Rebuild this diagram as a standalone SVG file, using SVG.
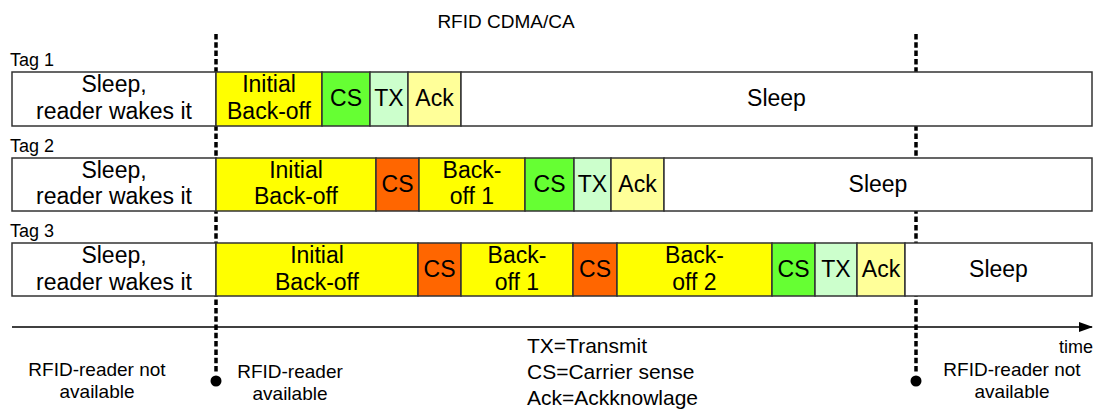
<svg xmlns="http://www.w3.org/2000/svg" width="1097" height="411" viewBox="0 0 1097 411">
<style>
text{font-family:"Liberation Sans",Arial,sans-serif;fill:#000}
.t{font-size:23px;text-anchor:middle}
.lbl{font-size:18px}
.bl{font-size:19px;text-anchor:middle}
.leg{font-size:21px}
.seg{stroke:#333;stroke-width:1.5}
.w{fill:#fff}
.y{fill:#ffff00}
.o{fill:#ff6600}
.g{fill:#66ff33}
.tx{fill:#ccffcc}
.ak{fill:#ffff99}
.dot{stroke:#000;stroke-width:3.5;stroke-dasharray:5.5 2.8;fill:none}
</style>
<defs>
<marker id="arr" markerWidth="14" markerHeight="10" refX="13" refY="5" orient="auto" markerUnits="userSpaceOnUse">
<path d="M0,0 L14,5 L0,10 z" fill="#000"/>
</marker>
</defs>
<rect width="1097" height="411" fill="#fff"/>
<text x="506" y="28" style="font-size:19px;text-anchor:middle">RFID CDMA/CA</text>

<g id="connectors">
<line class="dot" x1="216" y1="34" x2="216" y2="374"/>
<line class="dot" x1="916" y1="34" x2="916" y2="374"/>
<circle cx="216" cy="381" r="5.5" fill="#000"/>
<circle cx="916" cy="381" r="5.5" fill="#000"/>
<line x1="12" y1="327" x2="1092" y2="327" stroke="#000" stroke-width="1.5" marker-end="url(#arr)"/>
</g>

<g id="tag1">
<text class="lbl" x="10" y="66">Tag 1</text>
<rect class="seg w" x="12" y="72" width="204" height="54"/>
<text class="t" x="114" y="92">Sleep,</text><text class="t" x="114" y="118.5">reader wakes it</text>
<rect class="seg y" x="216" y="72" width="106" height="54"/>
<text class="t" x="269" y="92">Initial</text><text class="t" x="269" y="118.5">Back-off</text>
<rect class="seg g" x="322" y="72" width="48" height="54"/>
<text class="t" x="346" y="106">CS</text>
<rect class="seg tx" x="370" y="72" width="38" height="54"/>
<text class="t" x="389" y="106">TX</text>
<rect class="seg ak" x="408" y="72" width="53" height="54"/>
<text class="t" x="434.5" y="106">Ack</text>
<rect class="seg w" x="461" y="72" width="631" height="54"/>
<text class="t" x="776.5" y="106">Sleep</text>
</g>

<g id="tag2">
<text class="lbl" x="10" y="152">Tag 2</text>
<rect class="seg w" x="12" y="158" width="204" height="53"/>
<text class="t" x="114" y="178">Sleep,</text><text class="t" x="114" y="204">reader wakes it</text>
<rect class="seg y" x="216" y="158" width="160" height="53"/>
<text class="t" x="296" y="178">Initial</text><text class="t" x="296" y="204">Back-off</text>
<rect class="seg o" x="376" y="158" width="43" height="53"/>
<text class="t" x="397.5" y="192">CS</text>
<rect class="seg y" x="419" y="158" width="106" height="53"/>
<text class="t" x="472" y="178">Back-</text><text class="t" x="472" y="204">off 1</text>
<rect class="seg g" x="525" y="158" width="49" height="53"/>
<text class="t" x="549.5" y="192">CS</text>
<rect class="seg tx" x="574" y="158" width="37" height="53"/>
<text class="t" x="592.5" y="192">TX</text>
<rect class="seg ak" x="611" y="158" width="53" height="53"/>
<text class="t" x="637.5" y="192">Ack</text>
<rect class="seg w" x="664" y="158" width="428" height="53"/>
<text class="t" x="878" y="192">Sleep</text>
</g>

<g id="tag3">
<text class="lbl" x="10" y="237">Tag 3</text>
<rect class="seg w" x="12" y="243" width="204" height="53"/>
<text class="t" x="114" y="263">Sleep,</text><text class="t" x="114" y="289.5">reader wakes it</text>
<rect class="seg y" x="216" y="243" width="202" height="53"/>
<text class="t" x="317" y="263">Initial</text><text class="t" x="317" y="289.5">Back-off</text>
<rect class="seg o" x="418" y="243" width="43" height="53"/>
<text class="t" x="439.5" y="277">CS</text>
<rect class="seg y" x="461" y="243" width="112" height="53"/>
<text class="t" x="517" y="263">Back-</text><text class="t" x="517" y="289.5">off 1</text>
<rect class="seg o" x="573" y="243" width="44" height="53"/>
<text class="t" x="595" y="277">CS</text>
<rect class="seg y" x="617" y="243" width="155" height="53"/>
<text class="t" x="694.5" y="263">Back-</text><text class="t" x="694.5" y="289.5">off 2</text>
<rect class="seg g" x="772" y="243" width="43" height="53"/>
<text class="t" x="793.5" y="277">CS</text>
<rect class="seg tx" x="815" y="243" width="42" height="53"/>
<text class="t" x="836" y="277">TX</text>
<rect class="seg ak" x="857" y="243" width="48" height="53"/>
<text class="t" x="881" y="277">Ack</text>
<rect class="seg w" x="905" y="243" width="187" height="53"/>
<text class="t" x="998.5" y="277">Sleep</text>
</g>

<g id="labels">
<text class="lbl" x="1093" y="353" text-anchor="end">time</text>
<text class="bl" x="97" y="376">RFID-reader not</text>
<text class="bl" x="97" y="398">available</text>
<text class="bl" x="290" y="378">RFID-reader</text>
<text class="bl" x="290" y="400">available</text>
<text class="bl" x="1012" y="376">RFID-reader not</text>
<text class="bl" x="1012" y="398">available</text>
</g>

<g id="legend">
<text class="leg" x="527" y="353">TX=Transmit</text>
<text class="leg" x="527" y="379">CS=Carrier sense</text>
<text class="leg" x="527" y="405">Ack=Ackknowlage</text>
</g>
</svg>
